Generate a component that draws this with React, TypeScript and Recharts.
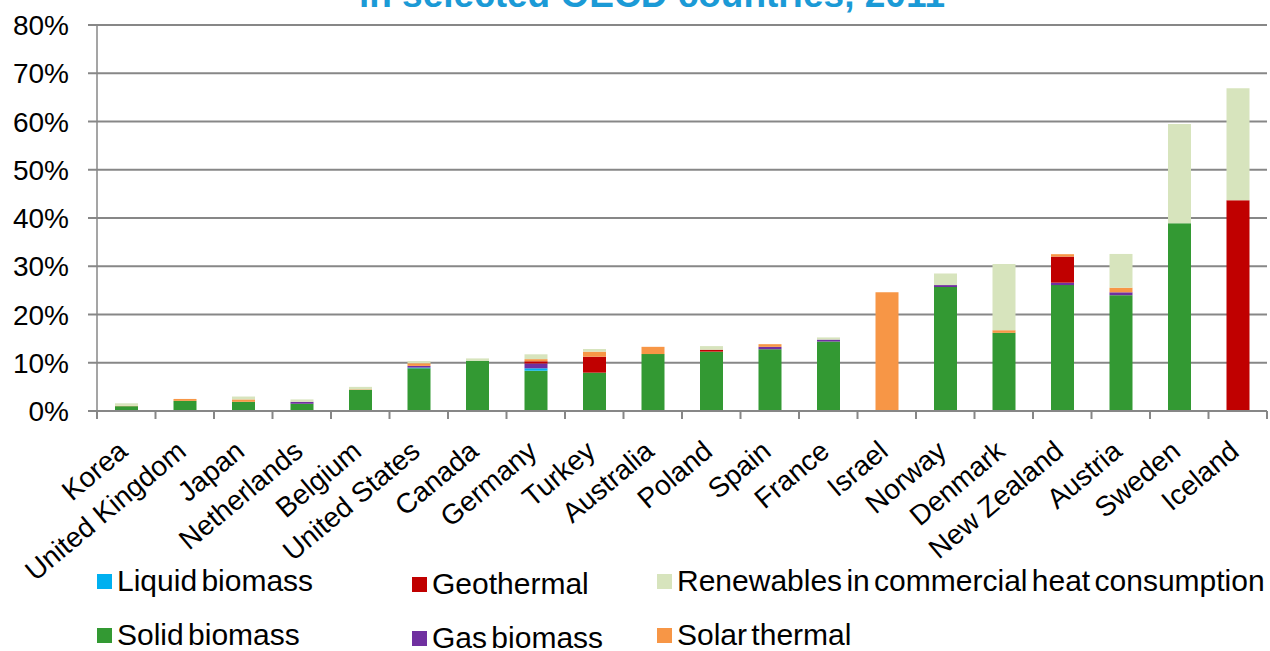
import React from 'react';
import { BarChart, Bar, XAxis, YAxis, CartesianGrid } from 'recharts';

// Countries, ordered by total renewable share of residential heat
const countries = [
  'Korea', 'United Kingdom', 'Japan', 'Netherlands', 'Belgium', 'United States',
  'Canada', 'Germany', 'Turkey', 'Australia', 'Poland', 'Spain', 'France',
  'Israel', 'Norway', 'Denmark', 'New Zealand', 'Austria', 'Sweden', 'Iceland',
];

// Shares in percent, one value per country
const solidBiomass = [1.0, 2.1, 1.9, 1.5, 4.4, 8.85, 10.4, 8.35, 7.95, 11.8, 12.3, 12.8, 14.4, 0, 25.7, 16.2, 26.1, 24.0, 38.9, 0];
const liquidBiomass = [0, 0, 0, 0, 0, 0.15, 0, 0.5, 0, 0, 0, 0, 0, 0, 0, 0, 0, 0, 0, 0];
const gasBiomass = [0, 0, 0, 0.4, 0, 0.35, 0, 1.0, 0, 0, 0, 0.5, 0.4, 0, 0.4, 0, 0.5, 0.6, 0, 0];
const geothermal = [0, 0, 0, 0, 0, 0, 0, 0.45, 3.3, 0, 0.4, 0, 0, 0, 0, 0, 5.4, 0, 0, 43.7];
const solarThermal = [0.1, 0.4, 0.5, 0, 0.1, 0.55, 0, 0.45, 1.05, 1.5, 0, 0.55, 0, 24.6, 0, 0.55, 0.5, 0.95, 0, 0];
const commercialHeat = [0.5, 0, 0.6, 0.5, 0.5, 0.45, 0.5, 1.0, 0.55, 0, 0.75, 0, 0.45, 0, 2.4, 13.7, 0, 7.0, 20.6, 23.2];

const yTicks = [0, 10, 20, 30, 40, 50, 60, 70, 80];

// Stacking order, bottom to top
const series = [
  { key: 'solid', name: 'Solid biomass', color: '#339933', values: solidBiomass },
  { key: 'liquid', name: 'Liquid biomass', color: '#00B0F0', values: liquidBiomass },
  { key: 'gas', name: 'Gas biomass', color: '#7030A0', values: gasBiomass },
  { key: 'geo', name: 'Geothermal', color: '#C00000', values: geothermal },
  { key: 'solar', name: 'Solar thermal', color: '#F79646', values: solarThermal },
  { key: 'heat', name: 'Renewables in commercial heat consumption', color: '#D7E4BD', values: commercialHeat },
];

const data = countries.map((country, i) => {
  const row: Record<string, number | string> = { country };
  series.forEach((s) => {
    row[s.key] = s.values[i];
  });
  return row;
});

const W = 1270;
const H = 651;
const PLOT_LEFT = 97;
const PLOT_RIGHT = 1267;
const PLOT_TOP = 25;
const PLOT_BOTTOM = 411;
const STEP = (PLOT_RIGHT - PLOT_LEFT) / countries.length;
const GRID = '#878787';
const FONT = '"Liberation Sans", Arial, Helvetica, sans-serif';

const YTick = (props: any) => {
  const { y, payload } = props;
  return (
    <text x={69} y={y + 10} textAnchor="end" fontSize={28} fontFamily={FONT} fill="#000">
      {payload.value}%
    </text>
  );
};

const XTick = (props: any) => {
  const { x, y, payload, index } = props;
  const ax = x + 3;
  const ay = y + 43;
  return (
    <g>
      <line x1={x - STEP / 2} y1={y} x2={x - STEP / 2} y2={y + 8} stroke={GRID} strokeWidth={2} />
      {index === countries.length - 1 && (
        <line x1={x + STEP / 2} y1={y} x2={x + STEP / 2} y2={y + 8} stroke={GRID} strokeWidth={2} />
      )}
      <text
        x={ax}
        y={ay}
        transform={`rotate(-40, ${ax}, ${ay})`}
        textAnchor="end"
        fontSize={28}
        fontFamily={FONT}
        fill="#000"
      >
        {payload.value}
      </text>
    </g>
  );
};

// Legend layout: three columns, two rows
const legendItems = [
  { key: 'liquid', x: 97, y: 591 },
  { key: 'solid', x: 97, y: 645 },
  { key: 'geo', x: 412, y: 594 },
  { key: 'gas', x: 412, y: 648 },
  { key: 'heat', x: 657, y: 591 },
  { key: 'solar', x: 657, y: 645 },
];

export default function App() {
  return (
    <div style={{ position: 'absolute', left: 0, top: 0, width: W, height: H, background: '#fff', overflow: 'hidden' }}>
      <BarChart
        width={W}
        height={H}
        data={data}
        margin={{ top: PLOT_TOP, right: W - PLOT_RIGHT, left: 0, bottom: 0 }}
        barSize={23}
      >
        <CartesianGrid vertical={false} stroke={GRID} strokeWidth={2} />
        <XAxis
          dataKey="country"
          height={H - PLOT_BOTTOM}
          interval={0}
          tickSize={0}
          tickMargin={0}
          tickLine={false}
          axisLine={{ stroke: GRID, strokeWidth: 2 }}
          tick={<XTick />}
        />
        <YAxis
          width={PLOT_LEFT}
          domain={[0, 80]}
          ticks={yTicks}
          interval={0}
          tickSize={9}
          tickLine={{ stroke: GRID, strokeWidth: 2 }}
          axisLine={{ stroke: GRID, strokeWidth: 1.5 }}
          tick={<YTick />}
        />
        {series.map((s) => (
          <Bar key={s.key} dataKey={s.key} name={s.name} stackId="heat" fill={s.color} isAnimationActive={false} />
        ))}
      </BarChart>
      <svg
        width={W}
        height={H}
        style={{ position: 'absolute', left: 0, top: 0, pointerEvents: 'none' }}
      >
        <text x={652} y={7} textAnchor="middle" fontSize={37} fontWeight="bold" fontFamily={FONT} fill="#1B9AD6">
          in selected OECD countries, 2011
        </text>
        {legendItems.map((item) => {
          const s = series.find((d) => d.key === item.key)!;
          return (
            <g key={item.key}>
              <rect x={item.x} y={item.y - 17} width={15} height={15} fill={s.color} />
              <text x={item.x + 20} y={item.y} fontSize={30} wordSpacing={-4} fontFamily={FONT} fill="#000">
                {s.name}
              </text>
            </g>
          );
        })}
      </svg>
    </div>
  );
}
